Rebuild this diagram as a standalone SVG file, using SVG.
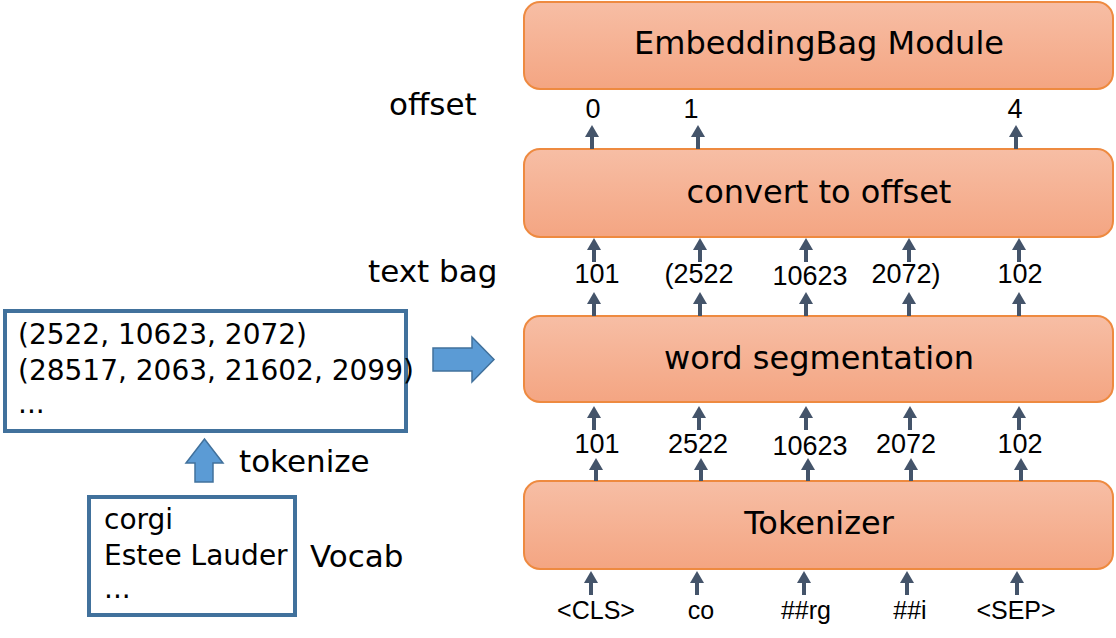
<svg xmlns="http://www.w3.org/2000/svg" width="1116" height="638" viewBox="0 0 1116 638">
<defs>
<linearGradient id="og" x1="0" y1="0" x2="0" y2="1">
<stop offset="0" stop-color="#f7bea5"/>
<stop offset="1" stop-color="#f4a582"/>
</linearGradient>
<marker id="ah" viewBox="0 0 12 14" markerWidth="12" markerHeight="14" refX="0" refY="7" orient="auto" markerUnits="userSpaceOnUse">
<path d="M0,0 L12,7 L0,14 z" fill="#44546a"/>
</marker>
</defs>
<style>
.box{fill:url(#og);stroke:#ee8a40;stroke-width:2}
.ttl{font-family:"DejaVu Sans",sans-serif;font-size:32px;fill:#000;text-anchor:middle}
.num{font-family:"Liberation Sans",Arial,sans-serif;font-size:27px;fill:#000;text-anchor:middle}
.tok{font-family:"Liberation Sans",Arial,sans-serif;font-size:25px;fill:#000;text-anchor:middle}
.lbl{font-family:"DejaVu Sans",sans-serif;font-size:31px;fill:#000}
.lt{font-family:"DejaVu Sans",sans-serif;font-size:28px;fill:#000}
.bb{fill:#fff;stroke:#41719c;stroke-width:4}
.blue{fill:#5b9bd5;stroke:#41719c;stroke-width:1.5}
.c{stroke:#44546a;stroke-width:4;fill:none;marker-end:url(#ah)}
</style>

<g id="embeddingbag">
<rect class="box" x="524" y="2" width="589" height="87" rx="16"/>
<text class="ttl" x="819" y="54">EmbeddingBag Module</text>
</g>
<g id="convert">
<rect class="box" x="524" y="149" width="589" height="88" rx="16"/>
<text class="ttl" x="819" y="203">convert to offset</text>
</g>
<g id="wordseg">
<rect class="box" x="524" y="316" width="589" height="86" rx="16"/>
<text class="ttl" x="819" y="369">word segmentation</text>
</g>
<g id="tokenizer">
<rect class="box" x="524" y="481" width="589" height="88" rx="16"/>
<text class="ttl" x="819" y="534">Tokenizer</text>
</g>

<g id="offset-labels">
<text class="lbl" x="389" y="115">offset</text>
<text class="num" x="593" y="118">0</text>
<text class="num" x="691" y="118">1</text>
<text class="num" x="1015" y="118">4</text>
</g>
<g id="textbag-labels">
<text class="lbl" x="368" y="282">text bag</text>
<text class="num" x="597" y="283">101</text>
<text class="num" x="699" y="283">(2522</text>
<text class="num" x="810" y="285">10623</text>
<text class="num" x="906" y="283">2072)</text>
<text class="num" x="1020" y="283">102</text>
</g>
<g id="id-labels">
<text class="num" x="597" y="453">101</text>
<text class="num" x="698" y="453">2522</text>
<text class="num" x="810" y="455">10623</text>
<text class="num" x="906" y="453">2072</text>
<text class="num" x="1020" y="453">102</text>
</g>
<g id="token-labels">
<text class="tok" x="596" y="619">&lt;CLS&gt;</text>
<text class="tok" x="701" y="619">co</text>
<text class="tok" x="806" y="619">##rg</text>
<text class="tok" x="910" y="619">##i</text>
<text class="tok" x="1016" y="619">&lt;SEP&gt;</text>
</g>

<g id="corpus">
<rect class="bb" x="5" y="311" width="401" height="120"/>
<text class="lt" x="18" y="344">(2522, 10623, 2072)</text>
<text class="lt" x="18" y="380">(28517, 2063, 21602, 2099)</text>
<text class="lt" x="18" y="413">...</text>
</g>
<g id="vocab">
<rect class="bb" x="89" y="497" width="206" height="118"/>
<text class="lt" x="104" y="529">corgi</text>
<text class="lt" x="104" y="565">Estee Lauder</text>
<text class="lt" x="104" y="598">...</text>
<text class="lbl" x="310" y="567">Vocab</text>
</g>
<g id="tokenize-label">
<text class="lbl" x="239" y="472">tokenize</text>
</g>

<g id="connectors">
<path class="blue" d="M433,348 L472,348 L472,337 L494,359.5 L472,382 L472,371 L433,371 z"/>
<path class="blue" d="M195,482 L195,463 L186,463 L204.5,439 L223,463 L213,463 L213,482 z"/>
<path class="c" d="M592,149 V137"/>
<path class="c" d="M698,149 V137"/>
<path class="c" d="M1016,149 V137"/>
<path class="c" d="M594,262 V250"/>
<path class="c" d="M700,262 V250"/>
<path class="c" d="M806,262 V250"/>
<path class="c" d="M909,262 V250"/>
<path class="c" d="M1019,262 V250"/>
<path class="c" d="M594,316 V304"/>
<path class="c" d="M700,316 V304"/>
<path class="c" d="M806,316 V304"/>
<path class="c" d="M909,316 V304"/>
<path class="c" d="M1019,316 V304"/>
<path class="c" d="M594,430 V418"/>
<path class="c" d="M699,430 V418"/>
<path class="c" d="M806,430 V418"/>
<path class="c" d="M910,430 V418"/>
<path class="c" d="M1019,430 V418"/>
<path class="c" d="M596,481 V470"/>
<path class="c" d="M701,481 V470"/>
<path class="c" d="M808,481 V470"/>
<path class="c" d="M911,481 V470"/>
<path class="c" d="M1021,481 V470"/>
<path class="c" d="M591,595 V583"/>
<path class="c" d="M697,595 V583"/>
<path class="c" d="M804,595 V583"/>
<path class="c" d="M907,595 V583"/>
<path class="c" d="M1017,595 V583"/>
</g>
</svg>
